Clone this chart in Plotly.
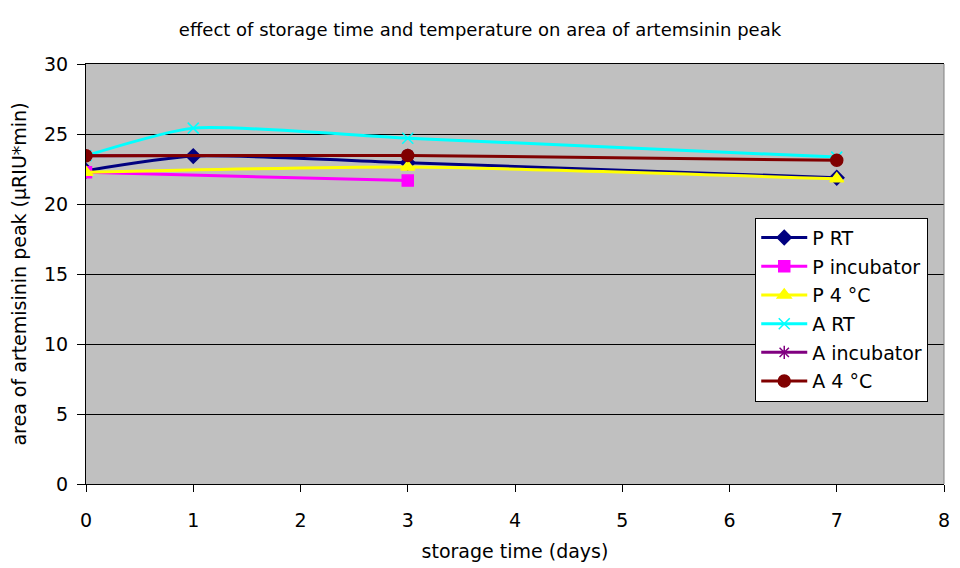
import plotly.graph_objects as go

# storage time (days) and peak areas (µRIU*min) per sample / condition
days_p_rt = [0, 1, 3, 7]
p_rt = [22.38, 23.42, 22.95, 21.88]

days_p_inc = [0, 3]
p_inc = [22.26, 21.67]

days_p_4c = [0, 3, 7]
p_4c = [22.26, 22.64, 21.8]

days_a_rt = [0, 1, 3, 7]
a_rt = [23.45, 25.42, 24.7, 23.35]

days_a_inc = [0, 3]
a_inc = [23.45, 23.47]

days_a_4c = [0, 3, 7]
a_4c = [23.45, 23.47, 23.12]

series = [
    ("P RT", days_p_rt, p_rt, "#000080", "diamond", 11),
    ("P incubator", days_p_inc, p_inc, "#FF00FF", "square", 11),
    ("P 4 °C", days_p_4c, p_4c, "#FFFF00", "triangle-up", 12),
    ("A RT", days_a_rt, a_rt, "#00FFFF", "x-thin-open", 11),
    ("A incubator", days_a_inc, a_inc, "#800080", "asterisk-open", 11),
    ("A 4 °C", days_a_4c, a_4c, "#800000", "circle", 12),
]

fig = go.Figure()
for name, xs, ys, color, symbol, size in series:
    fig.add_trace(go.Scatter(
        x=xs, y=ys, name=name, legendgroup=name, mode="lines+markers",
        line=dict(color=color, width=3, shape="spline", smoothing=0.6),
        marker=dict(symbol=symbol, size=size, color=color,
                    line=dict(color=color, width=1.5)),
    ))

font = "DejaVu Sans, Arial, sans-serif"

# grey right-hand frame edge of the plot area
fig.add_shape(type="line", xref="paper", yref="paper", x0=1, x1=1, y0=0, y1=1,
              line=dict(color="#808080", width=1))

fig.update_layout(
    width=960, height=568,
    margin=dict(l=86, r=10, t=64, b=83),
    paper_bgcolor="white",
    plot_bgcolor="#C0C0C0",
    font=dict(family=font, size=19, color="black"),
    title=dict(text="effect of storage time and temperature on area of artemsinin peak",
               x=0.5, xanchor="center", y=0.947, yanchor="middle",
               font=dict(size=18, family=font)),
    showlegend=True,
    legend=dict(x=0.78, y=0.634, xanchor="left", yanchor="top",
                bgcolor="white", bordercolor="black", borderwidth=1,
                font=dict(size=19, family=font), tracegroupgap=1,
                itemwidth=46),
    xaxis=dict(range=[0, 8], dtick=1, tick0=0, showgrid=False, zeroline=False,
               showline=True, linecolor="black", linewidth=1, mirror=True,
               ticks="outside", ticklen=7, tickcolor="black",
               ticklabelstandoff=12,
               title=dict(text="storage time (days)", font=dict(size=19), standoff=14)),
    yaxis=dict(range=[0, 30], dtick=5, tick0=0, showgrid=True, gridcolor="black",
               gridwidth=1, zeroline=False,
               showline=True, linecolor="black", linewidth=1,
               ticks="outside", ticklen=8, tickcolor="black",
               ticklabelstandoff=5,
               title=dict(text="area of artemisinin peak (µRIU*min)", font=dict(size=19), standoff=12)),
)

fig.write_html("out.html")
